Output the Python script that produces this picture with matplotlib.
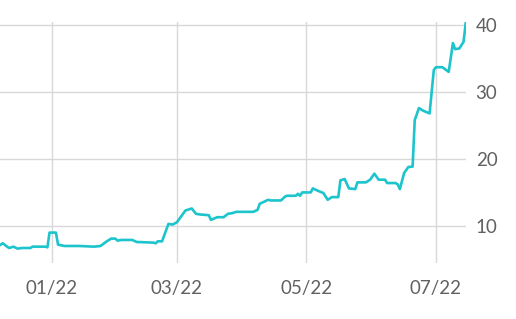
import pandas as pd
import matplotlib
matplotlib.use("Agg")
import matplotlib.pyplot as plt
import matplotlib.dates as mdates

dates = [
  "2021-12-08", "2021-12-09", "2021-12-11", "2021-12-12", "2021-12-14", "2021-12-16",
  "2021-12-18", "2021-12-22", "2021-12-23", "2021-12-27", "2021-12-29", "2021-12-30",
  "2021-12-31", "2022-01-03", "2022-01-04", "2022-01-07", "2022-01-14", "2022-01-21",
  "2022-01-24", "2022-01-27", "2022-01-29", "2022-01-31", "2022-02-01", "2022-02-03",
  "2022-02-08", "2022-02-10", "2022-02-18", "2022-02-19", "2022-02-20", "2022-02-22",
  "2022-02-25", "2022-02-27", "2022-03-01", "2022-03-05", "2022-03-08", "2022-03-10",
  "2022-03-12", "2022-03-16", "2022-03-17", "2022-03-20", "2022-03-23", "2022-03-25",
  "2022-03-27", "2022-03-29", "2022-04-06", "2022-04-08", "2022-04-09", "2022-04-13",
  "2022-04-14", "2022-04-19", "2022-04-21", "2022-04-22", "2022-04-26", "2022-04-27",
  "2022-04-28", "2022-04-29", "2022-05-03", "2022-05-04", "2022-05-06", "2022-05-09",
  "2022-05-11", "2022-05-13", "2022-05-16", "2022-05-17", "2022-05-19", "2022-05-21",
  "2022-05-24", "2022-05-25", "2022-05-29", "2022-05-31", "2022-06-02", "2022-06-04",
  "2022-06-07", "2022-06-08", "2022-06-12", "2022-06-13", "2022-06-14", "2022-06-16",
  "2022-06-18", "2022-06-20", "2022-06-21", "2022-06-23", "2022-06-25", "2022-06-28",
  "2022-06-30", "2022-07-01", "2022-07-04", "2022-07-07", "2022-07-09", "2022-07-10",
  "2022-07-12", "2022-07-14", "2022-07-15",
]
values = [
  7.2, 7.4, 6.9, 6.7, 6.9, 6.6,
  6.7, 6.7, 6.9, 6.9, 6.9, 6.8,
  9.0, 9.0, 7.2, 7.0, 7.0, 6.9,
  7.0, 7.7, 8.1, 8.1, 7.8, 7.9,
  7.9, 7.6, 7.5, 7.4, 7.7, 7.7,
  10.3, 10.2, 10.55, 12.3, 12.6, 11.8,
  11.7, 11.6, 10.9, 11.3, 11.3, 11.8,
  11.9, 12.1, 12.1, 12.4, 13.3, 13.9,
  13.8, 13.8, 14.4, 14.5, 14.5, 14.8,
  14.5, 15.0, 15.0, 15.6, 15.3, 14.9,
  13.9, 14.3, 14.3, 16.8, 17.0, 15.6,
  15.5, 16.5, 16.5, 16.9, 17.8, 16.9,
  16.9, 16.4, 16.4, 16.2, 15.5, 17.9,
  18.8, 18.85, 25.8, 27.6, 27.2, 26.8,
  33.3, 33.7, 33.7, 33.0, 37.3, 36.4,
  36.5, 37.5, 40.25,
]
y_ticks = [10, 20, 30, 40]
x_ticks = ["2022-01-01", "2022-03-01", "2022-05-01", "2022-07-01"]

plt.rcParams["font.family"] = ["Lato", "DejaVu Sans"]

df = pd.DataFrame({"date": pd.to_datetime(dates), "value": values})

fig = plt.figure(figsize=(5.16, 3.19), dpi=100)
ax = fig.add_axes([0.0, 0.176, 0.903, 0.755])
ax.plot(df["date"], df["value"], color="#1cc4cc", linewidth=1.9, solid_joinstyle="round")

ax.set_ylim(4.48, 40.45)
ax.set_xlim(pd.Timestamp("2021-12-07 16:00"), pd.Timestamp("2022-07-15 03:00"))
ax.set_yticks(y_ticks)
ax.set_xticks(pd.to_datetime(x_ticks))
ax.xaxis.set_major_formatter(mdates.DateFormatter("%m/%y"))
ax.yaxis.tick_right()

ax.grid(True, color="#d8d8d8", linewidth=1.0)
ax.set_axisbelow(True)
for s in ax.spines.values():
  s.set_visible(False)
ax.tick_params(axis="both", length=0, labelsize=13.5, labelcolor="#616161")
ax.tick_params(axis="y", pad=7)
ax.tick_params(axis="x", pad=12)

fig.savefig("out.png", dpi=100)
